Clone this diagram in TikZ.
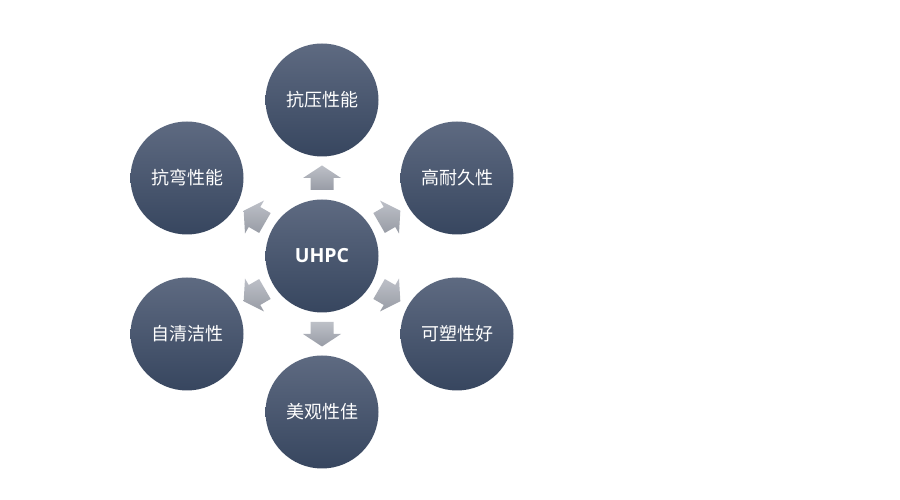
\documentclass[tikz,border=0pt]{standalone}
\usepackage{fontspec}
\newfontfamily\cjk{Noto Sans CJK SC}
\newfontfamily\latinbold{Open Sans}
\usetikzlibrary{calc}
\definecolor{circtop}{HTML}{5E6A81}
\definecolor{circbot}{HTML}{37465F}
\definecolor{arrtop}{HTML}{BDC0C7}
\definecolor{arrbot}{HTML}{989CA6}
\begin{document}
\begin{tikzpicture}[x=1pt,y=1pt,
  disc/.style={circle, minimum size=113, inner sep=0, top color=circtop, bottom color=circbot, draw=none, text=white, font=\cjk\fontsize{18}{21}\selectfont},
  hub/.style={disc, font=\latinbold\bfseries\fontsize{19.5}{22}\selectfont},
  blockarrow/.style={top color=arrtop, bottom color=arrbot, draw=none}]
\useasboundingbox (0,0) rectangle (900,500);
\fill[white] (0,0) rectangle (900,500);
\node[hub]  (c)  at (322,244) {UHPC};
\node[disc] (t)  at (322,400) {抗压性能};
\node[disc] (ur) at (457,322) {高耐久性};
\node[disc] (lr) at (457,166) {可塑性好};
\node[disc] (b)  at (322,88)  {美观性佳};
\node[disc] (ll) at (187,166) {自清洁性};
\node[disc] (ul) at (187,322) {抗弯性能};
\foreach \o/\a in {t/90, ur/30, lr/-30, b/-90, ll/210, ul/150}{
  \begin{scope}[shift={($(c)!0.5!(\o)$)}, rotate=\a]
    \shade[blockarrow] (-12,-11.5) -- (0,-11.5) -- (0,-19) -- (12.5,0) -- (0,19) -- (0,11.5) -- (-12,11.5) -- cycle;
  \end{scope}
}
\end{tikzpicture}
\end{document}
